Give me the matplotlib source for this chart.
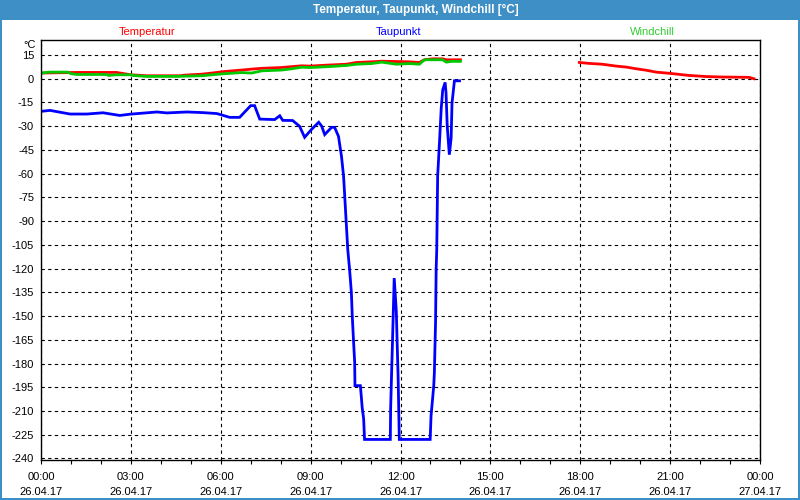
import numpy as np
import matplotlib

matplotlib.use("Agg")
import matplotlib.pyplot as plt
from matplotlib.patches import Rectangle

# hours since 26.04.17 00:00
temp_h = [0.0, 1.2, 2.52, 3.0, 3.53, 4.63, 4.8, 5.37, 5.7, 6.13, 6.7, 7.03, 7.37,
          8.03, 8.7, 8.97, 9.53, 10.2, 10.53, 11.03, 11.37, 12.3, 12.63, 12.8,
          13.07, 13.4, 13.53, 14.0,
          16.0,
          17.97, 18.3, 18.73, 19.2, 19.53, 19.87, 20.2, 20.53, 21.0, 21.63,
          22.2, 22.73, 23.63, 23.8]
temp_v = [3.6, 4.0, 4.0, 2.5, 1.9, 1.9, 2.3, 2.9, 3.6, 4.6, 5.5, 6.1, 6.6,
          7.1, 8.2, 8.0, 8.6, 9.2, 10.3, 10.7, 11.1, 10.7, 10.3, 12.0,
          12.6, 12.6, 12.0, 12.0,
          np.nan,
          10.3, 9.7, 9.2, 8.0, 7.4, 6.3, 5.4, 4.2, 3.4, 2.1,
          1.4, 1.1, 0.9, 0.0]

wind_h = [0.0, 0.3, 0.9, 1.0, 1.2, 2.2, 2.25, 2.5, 3.0, 3.1, 3.5, 4.5, 5.37,
          5.7, 6.13, 6.7, 7.03, 7.37, 8.03, 8.37, 8.7, 8.97, 9.53, 10.2, 10.53,
          11.03, 11.37, 11.87, 12.3, 12.63, 12.8, 13.4, 13.53, 13.7, 14.0]
wind_v = [3.6, 4.2, 4.2, 3.2, 2.7, 2.7, 2.1, 2.5, 2.5, 2.0, 1.5, 1.5, 1.9,
          2.5, 3.2, 3.9, 3.6, 5.0, 5.5, 6.3, 7.3, 7.1, 7.6, 8.4, 9.2,
          9.6, 10.5, 9.2, 9.6, 9.2, 12.0, 12.0, 10.5, 11.0, 11.0]

dew_h = [0.0, 0.3, 0.97, 1.53, 2.07, 2.63, 2.97, 3.87, 4.2, 4.87, 5.4, 5.87,
         6.3, 6.63, 7.0, 7.13, 7.3, 7.8, 7.97, 8.07, 8.4, 8.63, 8.8, 9.03,
         9.27, 9.37, 9.47, 9.7, 9.8, 9.93, 10.03, 10.1, 10.24, 10.3, 10.36,
         10.39, 10.43, 10.47, 10.48, 10.66, 10.69, 10.72, 10.77, 10.8, 11.66,
         11.67, 11.7, 11.73, 11.76, 11.79, 11.86, 11.89, 11.92, 11.96, 12.99,
         13.02, 13.07, 13.11, 13.13, 13.17, 13.19, 13.21, 13.24, 13.3, 13.36,
         13.41, 13.49, 13.52, 13.56, 13.63, 13.69, 13.72, 13.8, 13.97]
dew_v = [-20.6, -20.0, -22.3, -22.3, -21.5, -23.2, -22.4, -21.0, -21.6, -21.0,
         -21.4, -22.0, -24.4, -24.4, -17.0, -17.0, -25.5, -25.8, -23.4, -26.3,
         -26.4, -30.0, -37.0, -32.0, -27.5, -30.0, -35.3, -30.7, -30.7, -36.4,
         -49.0, -61.6, -108.0, -120.5, -135.0, -150.0, -165.0, -179.0, -194.0,
         -194.0, -200.5, -207.7, -215.0, -228.0, -228.0, -209.0, -188.0, -168.0,
         -147.0, -126.0, -147.0, -168.0, -188.0, -228.0, -228.0, -213.0, -202.6,
         -194.0, -186.0, -154.0, -120.5, -108.0, -61.6, -40.6, -18.5, -7.0,
         -2.3, -9.0, -30.0, -48.0, -37.4, -15.3, -1.3, -1.3]

x_ticks = [0, 3, 6, 9, 12, 15, 18, 21, 24]
x_labels = ["00:00\n26.04.17", "03:00\n26.04.17", "06:00\n26.04.17",
            "09:00\n26.04.17", "12:00\n26.04.17", "15:00\n26.04.17",
            "18:00\n26.04.17", "21:00\n26.04.17", "00:00\n27.04.17"]
y_ticks = list(range(-240, 16, 15))

FONT = "Liberation Sans"
RED, BLUE, GREEN = "#ff0000", "#0000ff", "#00c800"
FRAME = "#3d8fc5"

fig = plt.figure(figsize=(8, 5), dpi=100)
fig.patch.set_facecolor("white")

# window frame + title bar
fig.patches.append(Rectangle((0, 0.96), 1, 0.04, transform=fig.transFigure,
                             facecolor=FRAME, edgecolor="none", zorder=0))
for rect in [(0, 0, 0.0025, 1), (0.9975, 0, 0.0025, 1), (0, 0, 1, 0.004)]:
    fig.patches.append(Rectangle(rect[:2], rect[2], rect[3], transform=fig.transFigure,
                                 facecolor=FRAME, edgecolor="none", zorder=0))
fig.text(0.52, 0.98, "Temperatur, Taupunkt, Windchill [°C]", ha="center", va="center",
         color="white", fontsize=8.5, fontweight="bold", family=FONT)

ax = fig.add_axes([0.05125, 0.08, 0.89875, 0.84])
ax.set_facecolor("white")

ax.plot(dew_h, dew_v, color=BLUE, lw=2.0, solid_joinstyle="miter")
ax.plot(temp_h, temp_v, color=RED, lw=2.0)
ax.plot(wind_h, wind_v, color=GREEN, lw=2.0)

ax.set_xlim(0, 24)
ax.set_ylim(-241, 24.5)
ax.set_xticks(x_ticks)
ax.set_xticklabels(x_labels, family=FONT, fontsize=8, linespacing=1.6)
ax.set_xticks(range(25), minor=True)
ax.set_yticks(y_ticks)
ax.set_yticklabels([str(v) for v in y_ticks], family=FONT, fontsize=8)
ax.tick_params(axis="x", which="both", direction="out", length=3, width=0.8, pad=6)
ax.tick_params(axis="y", length=0, pad=5)
ax.grid(True, which="major", color="black", lw=0.8, ls=(0, (3, 3)))
for s in ax.spines.values():
    s.set_color("black")
    s.set_linewidth(1.0)

fig.text(36 / 800, 1 - 45 / 500, "°C", ha="right", va="center", fontsize=8, family=FONT)
fig.text(147 / 800, 1 - 32 / 500, "Temperatur", ha="center", va="center",
         color=RED, fontsize=8, family=FONT)
fig.text(399 / 800, 1 - 32 / 500, "Taupunkt", ha="center", va="center",
         color=BLUE, fontsize=8, family=FONT)
fig.text(652 / 800, 1 - 32 / 500, "Windchill", ha="center", va="center",
         color="#33cc33", fontsize=8, family=FONT)

fig.savefig("out.png", dpi=100, facecolor=fig.get_facecolor())
